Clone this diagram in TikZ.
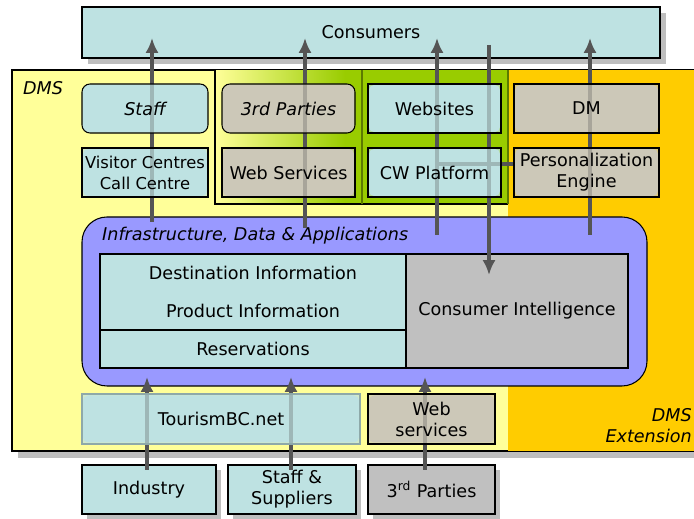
\documentclass[tikz,border=0pt]{standalone}
\usepackage{fontspec}
\setmainfont{DejaVu Sans}
\usetikzlibrary{arrows.meta}
\tikzset{>={Latex[length=8.5pt,width=7.5pt]}}
\definecolor{dmscyan}{RGB}{190,226,226}
\definecolor{dmsbeige}{RGB}{204,200,184}
\definecolor{dmsyellow}{RGB}{255,255,153}
\definecolor{dmsgreen}{RGB}{153,204,0}
\definecolor{dmsorange}{RGB}{255,204,0}
\definecolor{dmsblue}{RGB}{153,153,255}
\definecolor{cigray}{RGB}{192,192,192}
\definecolor{flowgray}{RGB}{85,85,85}
\definecolor{shadowgray}{RGB}{190,190,190}

\begin{document}
\begin{tikzpicture}[x=0.02cm, y=-0.02cm, font=\fontsize{10}{12}\selectfont,
    wh/.style 2 args={minimum width=#1*0.02cm, minimum height=#2*0.02cm},
    box/.style={draw, line width=0.6pt, inner sep=0pt, align=center},
    cyanbox/.style={box, fill=dmscyan},
    beigebox/.style={box, fill=dmsbeige},
    glass/.style={fill opacity=0.7, text opacity=1},
    flow/.style={draw=flowgray, line width=2.3pt, ->},
    link/.style={draw=flowgray, line width=2.3pt}]
    \useasboundingbox (0,0) rectangle (694,519);
    \clip (0,0) rectangle (694,519);
    % consumers on top
    \fill[shadowgray] (88,13) rectangle (666,64);
    \node[cyanbox, wh={578}{51}] (cons) at (371,32.5) {Consumers};
    % DMS area and extension
    \fill[shadowgray] (18,451) rectangle (700,458);
    \draw[line width=0.6pt, fill=dmsyellow] (12,70) rectangle (710,451);
    \fill[dmsorange] (508,70.3) rectangle (710,450.7);
    \shade[left color=dmsyellow, right color=dmsgreen] (215,70.3) rectangle (345,204);
    \fill[dmsgreen] (345,70.3) rectangle (508,204);
    \draw[line width=0.6pt] (215,70) -- (215,204) -- (508,204);
    \draw[line width=0.6pt, dmsgreen!60!black] (362,70) -- (362,204) (508,70) -- (508,204);
    % infrastructure, data & applications
    \draw[line width=0.6pt, fill=dmsblue, rounded corners=0.5cm] (82,217) rectangle (647,386);
    \node[anchor=west, font=\fontsize{10}{12}\selectfont\itshape] (infratitle) at (96,236) {Infrastructure, Data \& Applications};
    \node[cyanbox, wh={306}{76}, align=center] (dest) at (253,292) {Destination Information\\[10pt]Product Information};
    \node[cyanbox, wh={306}{38}] (resv) at (253,349) {Reservations};
    \node[box, fill=cigray, wh={222}{114}] (ci) at (517,311) {Consumer Intelligence};
    % sources below
    \foreach \cx/\w in {149/134, 292/128, 431.5/127}
        \fill[shadowgray] (\cx-\w/2+5,470) rectangle (\cx+\w/2+5,519);
    \node[cyanbox, wh={134}{49}] (industry) at (149,489.5) {Industry};
    \node[cyanbox, wh={128}{49}] (suppliers) at (292,489.5) {Staff \&\\Suppliers};
    \node[box, fill=cigray, wh={127}{49}] (thirdsrc) at (431.5,489.5) {3\textsuperscript{rd} Parties};
    % solid backing under the channel boxes
    \foreach \cx/\cy/\w/\c in {145/108.5/126/dmscyan, 288.5/108.5/133/dmsbeige,
        434.5/108.5/133/dmscyan, 586.5/108.5/145/dmsbeige, 145/172.5/126/dmscyan,
        288.5/172.5/133/dmsbeige, 434.5/172.5/133/dmscyan, 586.5/172.5/145/dmsbeige,
        221/419/278/dmscyan, 431.5/419/127/dmsbeige}
        \fill[\c, rounded corners=0.1cm] (\cx-\w/2+1,\cy-23.5) rectangle (\cx+\w/2-1,\cy+23.5);
    % flows
    \draw[link] (437,164) -- (514,164);
    \foreach \x/\t in {152/222, 305/228, 437/235, 590/235}
        \draw[flow] (\x,\t) -- (\x,38);
    \draw[flow] (489,45) -- (489,275);
    \foreach \x in {147, 291, 425}
        \draw[flow] (\x,470) -- (\x,377);
    % channels
    \node[cyanbox, glass, rounded corners=0.16cm, wh={126}{49}] (staff) at (145,108.5) {\itshape Staff};
    \node[beigebox, glass, rounded corners=0.16cm, wh={133}{49}] (third) at (288.5,108.5) {\itshape 3rd Parties};
    \node[cyanbox, glass, wh={133}{49}] (websites) at (434.5,108.5) {Websites};
    \node[beigebox, glass, wh={145}{49}] (dm) at (586.5,108.5) {DM};
    \node[cyanbox, glass, wh={126}{49}, font=\fontsize{9.3}{12}\selectfont] (visitor) at (145,172.5) {Visitor Centres\\Call Centre};
    \node[beigebox, glass, wh={133}{49}] (websvc) at (288.5,172.5) {Web Services};
    \node[cyanbox, glass, wh={133}{49}] (cwp) at (434.5,172.5) {CW Platform};
    \node[beigebox, glass, wh={145}{49}] (pers) at (586.5,172.5) {Personalization\\Engine};
    \node[cyanbox, glass, draw=dmscyan!75!black, wh={278}{50}] (tbc) at (221,419) {TourismBC.net};
    \node[beigebox, glass, wh={127}{50}] (websvcin) at (431.5,419) {Web\\services};
    % area labels
    \node[anchor=west, font=\fontsize{10}{12}\selectfont\itshape] (dms) at (17,88) {DMS};
    \node[anchor=east, align=right, font=\fontsize{10}{12}\selectfont\itshape] (ext) at (698,426) {DMS\\Extension};
\end{tikzpicture}
\end{document}
